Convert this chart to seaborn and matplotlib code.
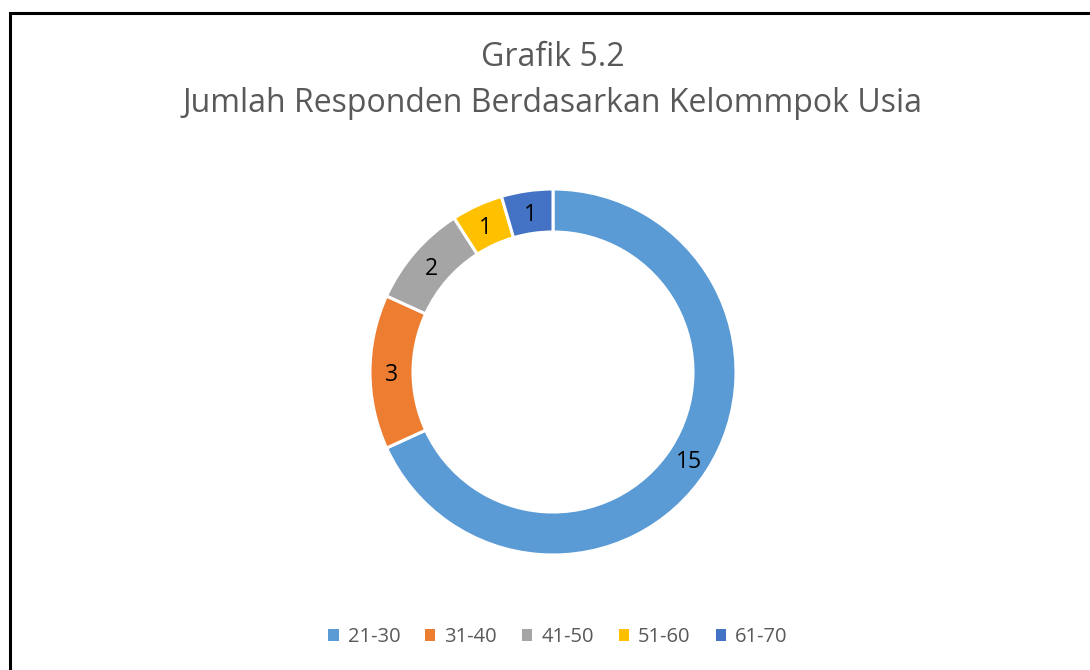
import matplotlib
matplotlib.use("Agg")
import matplotlib.pyplot as plt
from matplotlib.patches import Rectangle, Patch
import numpy as np
import seaborn as sns

categories = ["21-30", "31-40", "41-50", "51-60", "61-70"]
values = [15, 3, 2, 1, 1]
colors = ["#5B9BD5", "#ED7D31", "#A5A5A5", "#FFC000", "#4472C4"]
title_lines = ["Grafik 5.2", "Jumlah Responden Berdasarkan Kelommpok Usia"]

sns.set_theme(style="white")
plt.rcParams['font.family'] = ['Open Sans', 'DejaVu Sans']
palette = sns.color_palette(colors)

W, H = 1090, 670
fig = plt.figure(figsize=(W / 100, H / 100), dpi=100)

# donut geometry (pixels)
cx, cy, R = 553, 372, 183
lim = 1.1
half = R * lim
ax = fig.add_axes([(cx - half) / W, (H - cy - half) / H, 2 * half / W, 2 * half / H])
wedges, texts = ax.pie(values, colors=palette, startangle=90, counterclock=False,
                       radius=1.0,
                       wedgeprops=dict(width=0.235, edgecolor="white", linewidth=2.2))
ax.set_xlim(-lim, lim)
ax.set_ylim(-lim, lim)
ax.set_aspect("equal")
ax.axis("off")

total = sum(values)
ang = 90.0
for v in values:
    span = 360.0 * v / total
    mid = np.deg2rad(ang - span / 2)
    r = 1 - 0.235 / 2
    ax.text(r * np.cos(mid), r * np.sin(mid) - 0.015, str(v), ha="center", va="center",
            fontsize=16.5, color="black")
    ang -= span

fig.text(cx / W, 1 - 57 / H, title_lines[0], ha="center", va="center",
         fontsize=23, color="#595959")
fig.text(cx / W, 1 - 103 / H, title_lines[1], ha="center", va="center",
         fontsize=23, color="#595959")

handles = [Patch(facecolor=c, edgecolor="none") for c in palette]
fig.legend(handles, categories, loc="center", bbox_to_anchor=(558 / W, 1 - 637 / H),
           ncol=5, frameon=False, fontsize=14.5, handlelength=0.5, handleheight=0.5,
           handletextpad=0.45, columnspacing=1.25, labelcolor="#595959")

# outer frame (top and left visible, extends past right/bottom)
fig.patches.append(Rectangle((9.5 / W, -0.05), 1.2, (H - 13.5) / H + 0.05,
                             transform=fig.transFigure, fill=False,
                             edgecolor="black", linewidth=2.2))

fig.savefig("out.png", dpi=100, facecolor="white")
